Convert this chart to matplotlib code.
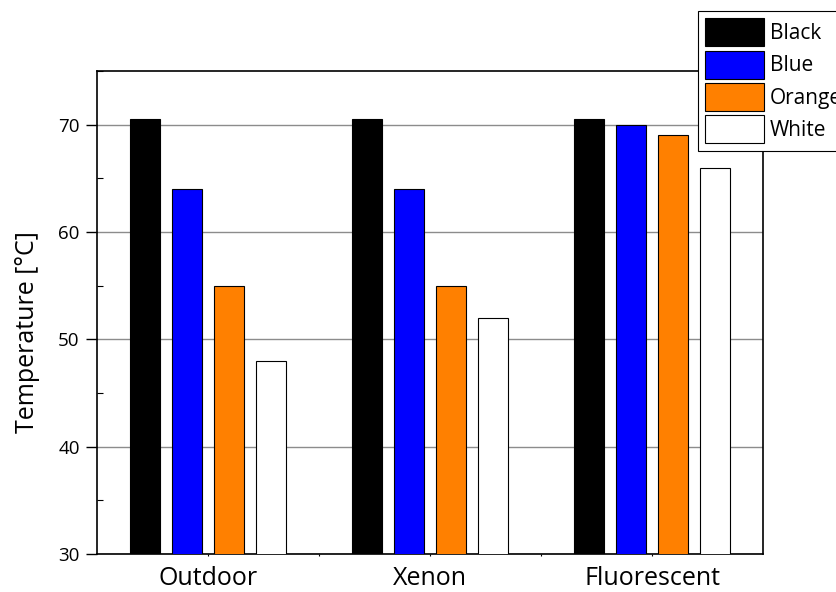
import numpy as np
import matplotlib.pyplot as plt
from matplotlib.ticker import MultipleLocator, FixedLocator

plt.rcParams['font.family'] = ['Open Sans', 'DejaVu Sans']

sources = ['Outdoor', 'Xenon', 'Fluorescent']
colours = ['Black', 'Blue', 'Orange', 'White']
fills = ['#000000', '#0000ff', '#ff8000', '#ffffff']
temps = {
    'Black': [70.5, 70.5, 70.5],
    'Blue': [64, 64, 70],
    'Orange': [55, 55, 69],
    'White': [48, 52, 66],
}

fig = plt.figure(figsize=(8.37, 5.92), dpi=100)
ax = fig.add_axes([0.1159, 0.0642, 0.7957, 0.8158])

x = np.arange(len(sources))
width = 0.135
step = 0.188
handles = []
for i, name in enumerate(colours):
    b = ax.bar(x + (i - 1.5) * step, temps[name], width, bottom=0,
               color=fills[i], edgecolor='black', linewidth=0.8, label=name, zorder=3)
    handles.append(b)

ax.set_ylim(30, 75)
ax.set_xlim(-0.5, 2.5)
ax.yaxis.set_major_locator(FixedLocator([30, 40, 50, 60, 70]))
ax.yaxis.set_minor_locator(MultipleLocator(5))
ax.set_xticks(x)
ax.set_xticklabels(sources, fontsize=18)
ax.xaxis.set_minor_locator(FixedLocator([0.5, 1.5]))
ax.tick_params(axis='x', which='both', length=1.5, width=0.8, direction='out', pad=7)
ax.tick_params(axis='y', which='major', length=8, direction='out', labelsize=13.5,
               width=1, pad=4.5)
ax.tick_params(axis='y', which='minor', length=4, direction='in', width=0.8)
ax.set_ylabel('Temperature [°C]', fontsize=18, labelpad=13, y=0.46)

ax.grid(axis='y', which='major', color='#8c8c8c', linewidth=1, zorder=0)
ax.set_axisbelow(True)
for s in ax.spines.values():
    s.set_linewidth(1.2)

leg = fig.legend(handles=handles, loc='upper left', bbox_to_anchor=(0.834, 0.9814),
                 borderaxespad=0, fontsize=15, frameon=True, fancybox=False,
                 edgecolor='black', framealpha=1, handlelength=2.8, handleheight=1.7,
                 handletextpad=0.3, labelspacing=0.2, borderpad=0.35)
leg.get_frame().set_linewidth(0.8)
leg.set_zorder(10)

fig.savefig('out.png', dpi=100)
